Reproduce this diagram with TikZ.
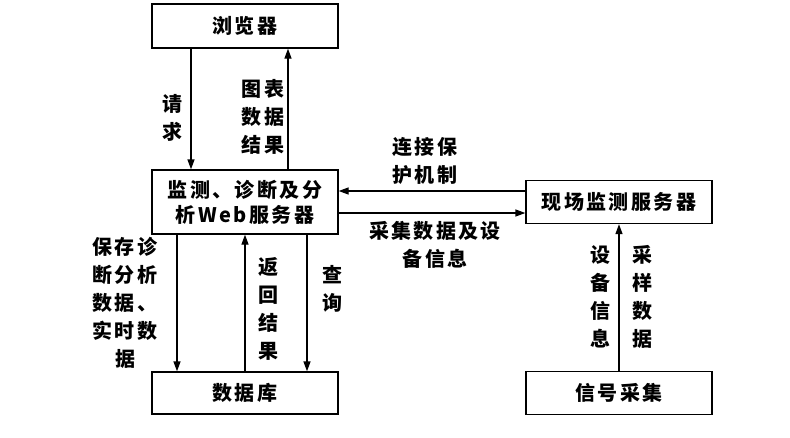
\documentclass[tikz,border=0pt]{standalone}
\usepackage{fontspec}
\setmainfont{Noto Sans CJK SC}[LetterSpace=12]
\usetikzlibrary{arrows.meta}
\begin{document}
\begin{tikzpicture}[x=1pt,y=-1pt,
  box/.style={draw,line width=1.3pt,minimum width=186pt,inner sep=0pt,font=\fontsize{20}{25}\selectfont\bfseries,align=center},
  lab/.style={inner sep=0pt,align=center,font=\fontsize{20}{28}\selectfont\bfseries},
  arr/.style={line width=1.3pt,-{Triangle[length=10pt,width=7pt]}}]
\useasboundingbox (0,0) rectangle (790,437);
\node[box,minimum height=44pt] (browser) at (245,26) {浏览器};
\node[box,minimum height=64pt] (web) at (245,202) {监测、诊断及分\\析Web服务器};
\node[box,minimum height=43pt] (field) at (619,202) {现场监测服务器};
\node[box,minimum height=42pt] (db) at (245,393) {数据库};
\node[box,minimum height=43pt] (signal) at (619,393) {信号采集};
% browser <-> web
\draw[arr] ([xshift=-54pt]browser.south) -- ([xshift=-54pt]web.north);
\draw[arr] ([xshift=43pt]web.north) -- ([xshift=43pt]browser.south);
% web <-> field
\draw[arr] ([yshift=11pt]field.west) -- ([yshift=11pt]web.east);
\draw[arr] ([yshift=-11pt]web.east) -- ([yshift=-11pt]field.west);
% web <-> db
\draw[arr] ([xshift=-68pt]web.south) -- ([xshift=-68pt]db.north);
\draw[arr] (db.north) -- (web.south);
\draw[arr] ([xshift=62pt]web.south) -- ([xshift=62pt]db.north);
% signal -> field
\draw[arr] (signal.north) -- (field.south);
% labels
\node[lab] (l1) at (172,118) {请\\求};
\node[lab] (l2) at (263,117) {图表\\数据\\结果};
\node[lab] (l3) at (425,161) {连接保\\护机制};
\node[lab] (l4) at (435,245) {采集数据及设\\备信息};
\node[lab] (l5) at (125,303) {保存诊\\断分析\\数据、\\实时数\\据};
\node[lab] (l6) at (268,309) {返\\回\\结\\果};
\node[lab] (l7) at (332,289) {查\\询};
\node[lab] (l8) at (600,297) {设\\备\\信\\息};
\node[lab] (l9) at (642,297) {采\\样\\数\\据};
\end{tikzpicture}
\end{document}
